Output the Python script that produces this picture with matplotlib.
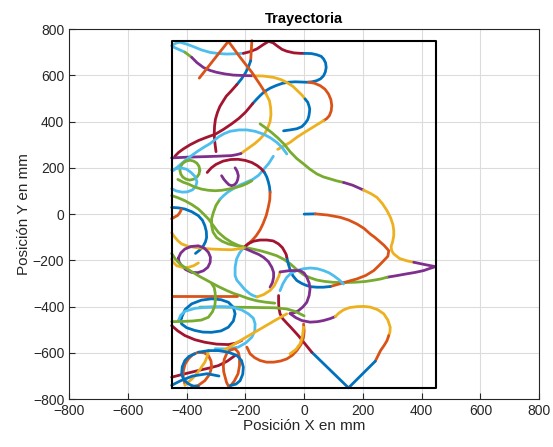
import matplotlib
matplotlib.use("Agg")
import matplotlib.pyplot as plt

plt.rcParams['font.family'] = ['Liberation Sans', 'DejaVu Sans']

# colores por defecto de MATLAB
B = '#0072BD'
O = '#D95319'
Y = '#EDB120'
P = '#7E2F8E'
G = '#77AC30'
L = '#4DBEEE'
R = '#A2142F'

# area de trabajo (mm)
box_x = [-450, 450, 450, -450, -450]
box_y = [-750, -750, 750, 750, -750]

# tramos de la trayectoria, (x, y) en mm
top_lb = [(-451, 728), (-435, 740), (-423, 743), (-400, 735), (-377, 724), (-350, 710), (-320, 699),
          (-290, 694), (-264, 692), (-235, 693), (-207, 695)]
top_dr = [(-207, 695), (-185, 702), (-161, 714), (-140, 732), (-121, 747), (-105, 740), (-93, 728),
          (-75, 712), (-59, 704), (-35, 697), (-13, 695), (0, 695)]
loop_b = [(0, 695), (25, 694), (43, 689), (58, 682), (66, 671), (73, 654), (75, 634), (72, 614),
          (66, 598), (56, 585), (43, 577), (27, 572), (9, 570), (-10, 571), (-30, 572), (-55, 570),
          (-75, 565), (-95, 556), (-115, 545), (-135, 530), (-150, 512), (-163, 495), (-175, 478)]
diag_dr = [(-175, 478), (-188, 458), (-200, 440), (-222, 414), (-247, 390), (-275, 366),
           (-303, 345), (-332, 332), (-360, 318), (-388, 300), (-411, 282), (-428, 266), (-440, 250)]
vert_o = [(-178, 750), (-182, 663)]
vert_b = [(-182, 663), (-190, 635), (-200, 610), (-213, 585), (-229, 560)]
loop_dr = [(-229, 560), (-250, 530), (-265, 510), (-275, 490), (-287, 465), (-295, 440),
           (-302, 410), (-305, 380), (-306, 350), (-305, 320), (-300, 270)]
corner_lb = [(-448, 724), (-406, 700)]
corner_g = [(-406, 700), (-383, 678)]
arc_p = [(-383, 678), (-365, 655), (-343, 634), (-320, 621), (-298, 613), (-270, 606), (-241, 601),
         (-205, 599), (-173, 598)]
arc_y = [(-173, 598), (-140, 597), (-104, 591), (-80, 582), (-60, 570), (-38, 552), (-20, 530),
         (-7, 514), (3, 498)]
arc_b = [(3, 498), (12, 484), (16, 470), (19, 455), (18, 440), (16, 424), (12, 408), (3, 392),
         (-8, 378), (-25, 369), (-48, 364), (-70, 360)]
right_o = [(15, 570), (35, 566), (55, 555), (71, 540), (83, 519), (91, 495), (94, 469), (92, 446),
           (86, 426), (77, 413), (66, 404)]
right_y = [(66, 404), (43, 386), (20, 368), (-3, 350), (-25, 332), (-48, 310), (-70, 294), (-90, 280)]
zig_o = [(-357, 588), (-258, 747), (-218, 678), (-178, 613), (-150, 560), (-130, 520)]
up_y = [(-215, 262), (-190, 285), (-168, 305), (-150, 325), (-135, 346), (-125, 370),
        (-116, 400), (-113, 430), (-114, 460), (-118, 490), (-130, 520)]
line_p = [(-451, 243), (-400, 246), (-350, 248), (-300, 250), (-247, 253), (-230, 257), (-215, 262)]
mid_lb = [(-446, 188), (-425, 210), (-406, 231), (-382, 254), (-360, 274), (-340, 290), (-320, 305),
          (-305, 320), (-290, 335), (-272, 348), (-252, 358), (-222, 364), (-195, 364), (-167, 358),
          (-139, 346), (-115, 330), (-93, 310), (-75, 288), (-59, 260)]
long_g = [(-150, 390), (-130, 372), (-110, 352), (-90, 330), (-68, 302), (-48, 270), (-25, 240),
          (-2, 217), (20, 194), (43, 174), (65, 161), (89, 152), (110, 144), (134, 137)]
tip_p1 = [(134, 137), (165, 125), (202, 104)]
big_y = [(202, 104), (228, 88), (248, 72), (266, 46), (282, 15), (294, -15), (302, -45), (305, -70),
         (305, -95), (301, -120), (296, -140), (298, -158), (305, -172), (325, -192), (350, -202),
         (373, -208)]
tip_p2 = [(373, -208), (410, -218), (447, -227), (425, -236), (407, -244), (378, -252), (350, -258),
          (315, -266), (282, -273)]
low_g = [(282, -273), (262, -280), (240, -285), (210, -291), (180, -294), (140, -296), (100, -295),
         (70, -291), (43, -285), (20, -275), (-2, -262), (-25, -240), (-47, -215), (-70, -195),
         (-93, -180), (-122, -168), (-150, -158), (-175, -151), (-201, -144), (-230, -137),
         (-258, -129), (-280, -117), (-298, -101), (-310, -78), (-315, -50), (-315, -20),
         (-309, 7), (-300, 38), (-286, 65)]
big_lb = [(-286, 65), (-274, 80), (-260, 95), (-240, 111), (-220, 125), (-198, 137), (-175, 150),
          (-155, 168), (-140, 190), (-120, 220), (-105, 250)]
arc_dr2 = [(-330, 180), (-316, 200), (-300, 215), (-276, 229), (-250, 236), (-225, 237),
           (-200, 232), (-178, 223), (-160, 210), (-146, 196), (-135, 180)]
side_b = [(-135, 180), (-127, 160), (-122, 140), (-118, 118), (-116, 95)]
side_o = [(-116, 95), (-117, 62), (-122, 30), (-129, -6), (-140, -42), (-150, -68), (-163, -93),
          (-176, -112), (-190, -128), (-207, -146)]
start_b = [(0, 0), (38, 1)]
start_o = [(38, 1), (80, -4), (123, -14), (152, -26), (180, -43), (204, -62), (225, -86),
           (240, -100), (254, -115), (272, -135), (288, -158), (285, -182), (271, -201),
           (255, -222), (237, -244), (210, -265), (180, -280), (157, -288), (125, -300), (89, -313)]
back_b = [(89, -313), (65, -316), (43, -316), (25, -314), (9, -309), (-8, -300), (-25, -287),
          (-38, -267), (-47, -244), (-54, -215), (-59, -187)]
cross_dr = [(-59, -187), (-61, -175), (-65, -165), (-74, -145), (-87, -129), (-105, -116),
            (-127, -112), (-150, -112), (-172, -117), (-190, -128), (-207, -146)]
cross_p = [(-207, -146), (-190, -155), (-172, -165), (-155, -174), (-138, -187), (-122, -205),
           (-110, -230), (-104, -252), (-104, -273), (-108, -296), (-116, -316)]
cross_lb = [(-207, -146), (-220, -168), (-230, -194), (-235, -230), (-235, -266), (-229, -286),
            (-218, -302), (-202, -326), (-184, -345), (-172, -353), (-160, -358)]
low_y = [(-160, -358), (-138, -348), (-116, -330), (-102, -310), (-93, -287), (-86, -268), (-82, -250)]
bot_lb = [(-82, -331), (-72, -300), (-59, -273), (-44, -255), (-25, -244), (-2, -236), (21, -233),
          (45, -236), (66, -244), (85, -254), (100, -266), (118, -283), (134, -302)]
ploop = [(-82, -250), (-48, -244), (-14, -244), (0, -255), (9, -273), (17, -298), (20, -323),
         (17, -352), (9, -381), (-4, -401), (-19, -417), (-33, -426), (-48, -430)]
heart_p = [(-48, -430), (-28, -448), (-8, -460), (20, -467), (45, -465), (66, -460), (88, -452),
           (106, -443)]
heart_y = [(106, -443), (118, -428), (134, -414), (155, -404), (180, -400), (203, -399), (225, -402),
           (250, -413), (271, -431), (285, -458), (293, -489), (292, -510), (288, -525)]
heart_o = [(288, -525), (282, -547), (272, -568), (260, -590), (242, -636)]
heart_b = [(242, -636), (151, -751), (26, -597)]
heart_dr = [(26, -597), (-20, -525), (-45, -490), (-60, -470), (-73, -452), (-82, -431),
            (-86, -405), (-87, -380), (-87, -352)]
gcirc = [(-355, 190), (-358, 207), (-365, 220), (-376, 229), (-389, 233), (-402, 229), (-413, 220),
         (-420, 207), (-423, 190), (-420, 173), (-413, 160), (-402, 151), (-389, 147), (-376, 151),
         (-365, 160), (-358, 173), (-355, 190)]
lb_loop = [(-451, 190), (-435, 197), (-420, 200), (-400, 194), (-385, 180), (-371, 162), (-365, 140),
           (-369, 120), (-380, 105), (-398, 96), (-415, 95), (-435, 100), (-451, 110)]
g_bowl = [(-430, 150), (-412, 138), (-394, 130), (-372, 117), (-349, 108), (-326, 103), (-303, 101),
          (-280, 103), (-258, 108), (-235, 114), (-212, 123), (-195, 132), (-178, 144)]
p_small = [(-281, 166), (-273, 150), (-264, 137), (-256, 127), (-247, 123), (-237, 127), (-230, 137),
           (-226, 150), (-224, 166), (-228, 185), (-235, 200)]
g_diag = [(-451, 80), (-430, 71), (-406, 58), (-382, 41), (-360, 22), (-342, 0), (-326, -21),
          (-309, -50), (-292, -79), (-270, -103), (-247, -122), (-225, -135), (-201, -144)]
b_left = [(-451, 29), (-428, 27), (-406, 22), (-382, 10), (-360, -7), (-346, -27), (-338, -50),
          (-333, -75), (-332, -101), (-336, -120), (-343, -137), (-355, -155), (-370, -170)]
o_left = [(-451, -20), (-440, -12), (-430, -5), (-423, 7), (-418, 20)]
y_left = [(-451, -80), (-446, -90), (-440, -100), (-430, -115), (-417, -129), (-395, -139),
          (-372, -144), (-345, -148), (-315, -151), (-280, -153), (-247, -154), (-227, -151),
          (-207, -146)]
p_loop = [(-428, -190), (-420, -168), (-406, -151), (-385, -140), (-360, -137), (-340, -147),
          (-326, -165), (-319, -186), (-320, -209), (-328, -230), (-343, -245), (-362, -253),
          (-383, -252), (-403, -240), (-417, -223), (-426, -206), (-428, -190)]
y_left2 = [(-451, -194), (-444, -210), (-434, -223), (-415, -230), (-394, -230), (-376, -223),
           (-360, -211)]
g_diag2 = [(-451, -170), (-438, -195), (-423, -215), (-406, -231), (-389, -244), (-355, -270),
           (-320, -294), (-292, -313), (-264, -330), (-240, -343), (-218, -352), (-190, -365),
           (-160, -375), (-130, -381), (-100, -385)]
o_horiz = [(-451, -356), (-229, -356)]
g_horiz = [(-355, -402), (-280, -402), (-200, -403), (-150, -404), (-99, -405), (-59, -410),
           (-30, -421), (0, -440)]
b_ell = [(-417, -446), (-405, -412), (-383, -388), (-350, -372), (-315, -366), (-283, -370),
         (-258, -381), (-241, -403), (-235, -431), (-241, -462), (-258, -489), (-283, -505),
         (-315, -511), (-345, -510), (-372, -503), (-400, -491), (-417, -475), (-420, -460),
         (-417, -446)]
lb_ell = [(-428, -460), (-420, -437), (-406, -420), (-370, -407), (-326, -402), (-285, -400),
          (-247, -402), (-213, -414), (-190, -431), (-173, -450), (-167, -474), (-168, -505),
          (-178, -532), (-198, -556), (-224, -575), (-260, -583), (-303, -582)]
dr_diag = [(-451, -482), (-430, -505), (-406, -525), (-372, -543), (-338, -554), (-298, -562),
           (-258, -564), (-233, -558), (-212, -546)]
dr_low = [(-451, -705), (-405, -690), (-360, -676), (-325, -666), (-292, -655), (-262, -636),
          (-235, -611)]
o_drop1 = [(-406, -734), (-412, -705), (-411, -676), (-405, -648), (-394, -626), (-378, -606),
           (-360, -597), (-340, -600), (-326, -611), (-317, -635), (-315, -662), (-322, -693),
           (-338, -720), (-360, -740), (-383, -748)]
o_drop2 = [(-255, -750), (-264, -728), (-269, -705), (-274, -680), (-275, -655), (-272, -628),
           (-264, -604), (-252, -588), (-235, -582), (-224, -598), (-220, -620), (-220, -655),
           (-225, -690), (-238, -722), (-255, -750)]
y_up = [(-406, -740), (-390, -722), (-372, -700), (-355, -672), (-338, -640), (-330, -615),
        (-326, -590)]
y_diag = [(-275, -590), (-240, -564), (-207, -539), (-173, -514), (-139, -489), (-100, -460),
          (-59, -431)]
o_arc = [(-195, -575), (-184, -604), (-168, -621), (-150, -633), (-128, -640), (-104, -640),
         (-80, -635), (-59, -626), (-40, -610), (-25, -590), (-10, -562), (-2, -532), (0, -505),
         (-2, -475)]
y_small = [(-2, -489), (-6, -530), (-14, -561), (-28, -585), (-48, -604)]
b_low = [(-451, -740), (-420, -720), (-380, -700), (-330, -690), (-290, -700)]
b_arc_low = [(-360, -597), (-325, -590), (-292, -590), (-258, -597), (-229, -611), (-213, -633),
             (-207, -662), (-209, -692), (-218, -720), (-232, -735), (-252, -741)]
b_small = [(-372, -604), (-392, -615), (-406, -633), (-415, -660), (-417, -691), (-410, -715),
           (-394, -734), (-378, -743), (-360, -745)]
g_left_low = [(-315, -300), (-306, -318), (-303, -340), (-302, -368), (-304, -395), (-312, -422),
              (-326, -446), (-350, -458), (-380, -462), (-415, -464), (-451, -465)]

tramos = [
    (top_lb, L), (top_dr, R), (loop_b, B), (diag_dr, R), (vert_o, O), (vert_b, B),
    (loop_dr, R), (corner_lb, L), (corner_g, G), (arc_p, P), (arc_y, Y), (arc_b, B),
    (right_o, O), (right_y, Y), (zig_o, O), (up_y, Y), (line_p, P), (mid_lb, L),
    (long_g, G), (tip_p1, P), (big_y, Y), (tip_p2, P), (low_g, G), (big_lb, L),
    (arc_dr2, R), (side_b, B), (side_o, O), (start_b, B), (start_o, O), (back_b, B),
    (cross_dr, R), (cross_p, P), (cross_lb, L), (low_y, Y), (bot_lb, L), (ploop, P),
    (heart_p, P), (heart_y, Y), (heart_o, O), (heart_b, B), (heart_dr, R), (gcirc, G),
    (lb_loop, L), (g_bowl, G), (p_small, P), (g_diag, G), (b_left, B), (o_left, O),
    (y_left, Y), (p_loop, P), (y_left2, Y), (g_diag2, G), (o_horiz, O), (g_horiz, G),
    (b_ell, B), (lb_ell, L), (dr_diag, R), (dr_low, R), (o_drop1, O), (o_drop2, O),
    (y_up, Y), (y_diag, Y), (o_arc, O), (y_small, Y), (b_low, B), (b_arc_low, B),
    (b_small, B), (g_left_low, G),
]

fig = plt.figure(figsize=(5.53, 4.47), dpi=100)
ax = fig.add_axes([0.125, 0.107, 0.85, 0.828])

for pts, c in tramos:
    xs = [p[0] for p in pts]
    ys = [p[1] for p in pts]
    ax.plot(xs, ys, color=c, linewidth=2.0, solid_capstyle='round', solid_joinstyle='round')

ax.plot(box_x, box_y, color='black', linewidth=1.5)

ax.set_xlim(-800, 800)
ax.set_ylim(-800, 800)
ax.set_xticks(range(-800, 801, 200))
ax.set_yticks(range(-800, 801, 200))
ax.grid(True, color='#dcdcdc', linewidth=0.8)
ax.set_axisbelow(True)
ax.tick_params(direction='in', length=4, color='#262626', labelsize=10, labelcolor='#262626')
for s in ax.spines.values():
    s.set_color('#262626')
    s.set_linewidth(0.8)

ax.set_title('Trayectoria', fontsize=10.5, fontweight='bold', color='black', pad=4)
ax.set_xlabel('Posición X en mm', fontsize=11, color='#262626', labelpad=1)
ax.set_ylabel('Posición Y en mm', fontsize=11, color='#262626', labelpad=1)

fig.savefig('out.png', dpi=100)
